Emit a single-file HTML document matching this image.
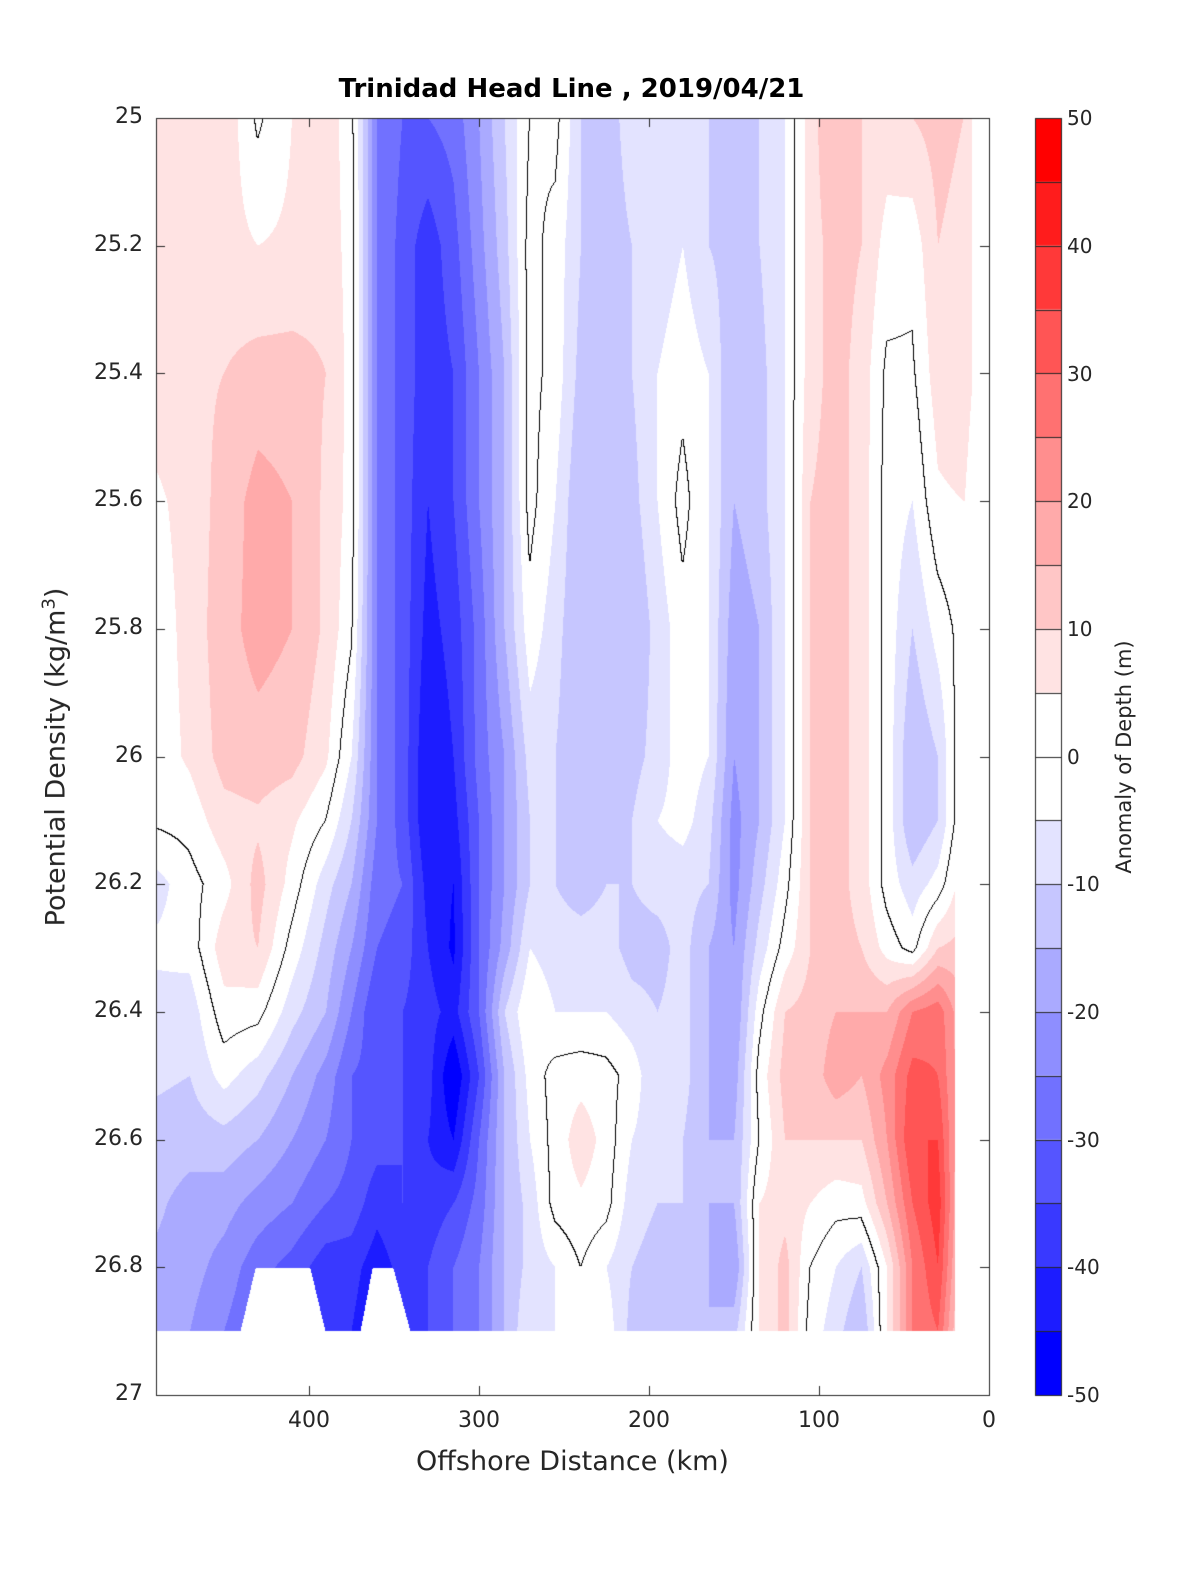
<!DOCTYPE html>
<html><head><meta charset="utf-8"><style>
html,body{margin:0;padding:0;background:#fff;}
#wrap{position:relative;width:1200px;height:1575px;font-family:"DejaVu Sans","Liberation Sans",sans-serif;color:#262626;}
canvas{position:absolute;left:0;top:0;}
.t{position:absolute;font-size:22px;white-space:nowrap;}
.yl{right:1057px;text-align:right;}
.cl{left:1067px;}
</style></head><body><div id="wrap">
<canvas id="c" width="1200" height="1575"></canvas>
<div class="t" style="left:0;width:1143px;top:74px;text-align:center;font-weight:bold;font-size:26px;color:#000;">Trinidad Head Line , 2019/04/21</div>
<div class="t yl" style="top:104px">25</div>
<div class="t yl" style="top:232px">25.2</div>
<div class="t yl" style="top:360px">25.4</div>
<div class="t yl" style="top:487px">25.6</div>
<div class="t yl" style="top:615px">25.8</div>
<div class="t yl" style="top:743px">26</div>
<div class="t yl" style="top:870px">26.2</div>
<div class="t yl" style="top:998px">26.4</div>
<div class="t yl" style="top:1126px">26.6</div>
<div class="t yl" style="top:1253px">26.8</div>
<div class="t yl" style="top:1381px">27</div>
<div class="t" style="left:279px;top:1408px;width:60px;text-align:center">400</div>
<div class="t" style="left:449px;top:1408px;width:60px;text-align:center">300</div>
<div class="t" style="left:619px;top:1408px;width:60px;text-align:center">200</div>
<div class="t" style="left:789px;top:1408px;width:60px;text-align:center">100</div>
<div class="t" style="left:959px;top:1408px;width:60px;text-align:center">0</div>
<div class="t" style="left:156px;width:833px;top:1446px;text-align:center;font-size:27px">Offshore Distance (km)</div>
<div class="t" style="left:55px;top:757px;font-size:27px;transform:translate(-50%,-50%) rotate(-90deg);">Potential Density (kg/m<sup style="font-size:18px">3</sup>)</div>
<div class="t" style="left:1124px;top:757px;font-size:21px;transform:translate(-50%,-50%) rotate(-90deg);">Anomaly of Depth (m)</div>
<div class="t cl" style="top:106px;font-size:20px">50</div>
<div class="t cl" style="top:234px;font-size:20px">40</div>
<div class="t cl" style="top:362px;font-size:20px">30</div>
<div class="t cl" style="top:489px;font-size:20px">20</div>
<div class="t cl" style="top:617px;font-size:20px">10</div>
<div class="t cl" style="top:745px;font-size:20px">0</div>
<div class="t cl" style="top:872px;font-size:20px">-10</div>
<div class="t cl" style="top:1000px;font-size:20px">-20</div>
<div class="t cl" style="top:1128px;font-size:20px">-30</div>
<div class="t cl" style="top:1255px;font-size:20px">-40</div>
<div class="t cl" style="top:1383px;font-size:20px">-50</div>
</div>
<script>
var km=[490,470,450,430,410,390,375,360,345,330,315,300,285,270,255,240,225,210,195,180,165,150,135,120,105,90,75,60,45,30,15];
var rho=[25.0,25.2,25.4,25.6,25.8,26.0,26.1,26.2,26.3,26.4,26.5,26.6,26.7,26.8,26.9];
var C=[
[8,8,8,4,2,2,1,-7,-4,-7,-9,-12,-14,-16,-17],
[8,8,9,7,7,6,2,-2,-3,-8,-10,-13,-17,-18,-20],
[9,7,10,12,13,12,8,3,8,3,-3,-12,-18,-22,-25],
[-1,5,12,17,17,13,9,12,10,2,-8,-15,-22,-28,-30],
[5,6,12,15,15,12,6,3,-2,-8,-15,-20,-25,-32,-35],
[8,8,10,9,9,6,0,-8,-12,-15,-22,-25,-30,-38,-40],
[2,3,3,3,1,-5,-10,-15,-20,-25,-30,-30,-32,-38,-40],
[-25,-25,-25,-25,-25,-25,-25,-28,-30,-35,-32,-33,-38,-43,-45],
[-30,-32,-32,-32,-32,-32,-32,-30,-32,-35,-35,-35,-35,-38,-40],
[-30,-38,-38,-40,-42,-45,-45,-42,-40,-38,-38,-40,-38,-35,-35],
[-28,-32,-35,-35,-38,-40,-42,-45,-46,-42,-50,-45,-35,-30,-30],
[-20,-22,-25,-25,-28,-28,-30,-30,-30,-30,-35,-30,-28,-25,-25],
[-10,-12,-15,-15,-15,-20,-20,-20,-18,-10,-15,-15,-15,-15,-15],
[0,2,2,2,-2,-8,-10,-10,-5,0,-3,-5,-8,-8,-5],
[2,-2,-2,-5,-8,-10,-10,-10,-8,-5,2,2,2,-5,-5],
[-10,-10,-12,-15,-15,-15,-15,-12,-8,-5,3,8,4,0,-5],
[-12,-12,-12,-12,-15,-12,-12,-10,-8,-5,2,3,2,-5,-2],
[-8,-10,-10,-12,-15,-12,-10,-10,-12,-8,-2,-5,-8,-10,-12],
[-8,-8,-5,-5,-8,-8,-5,-8,-12,-10,-10,-8,-10,-12,-12],
[-8,-5,-2,2,-2,-2,-3,-8,-8,-8,-8,-10,-10,-10,-12],
[-10,-10,-5,-5,-5,-5,-8,-10,-15,-15,-15,-15,-15,-15,-15],
[-12,-12,-15,-15,-18,-20,-22,-22,-20,-20,-18,-15,-15,-20,-12],
[-10,-10,-12,-12,-15,-15,-15,-12,-8,-2,2,0,5,5,5],
[-5,-5,-5,-5,-5,-5,-5,-2,2,10,12,10,8,12,12],
[8,8,8,10,10,10,10,10,10,12,12,10,5,0,-2],
[15,12,12,12,12,12,12,12,12,15,18,10,2,-5,-8],
[10,10,8,8,8,8,8,8,10,15,15,10,3,-10,-15],
[8,3,-1,-2,-2,-2,-2,-2,3,15,22,20,15,5,5],
[10,2,-1,-5,-10,-15,-15,-8,-2,25,32,35,30,25,25],
[12,10,8,4,-3,-10,-10,-3,10,28,30,35,38,35,30],
[10,8,10,5,2,5,5,8,12,15,15,12,10,8,5]];
function X(d){return 989-1.7*d;}
function Y(r){return 118+(r-25)*638.5;}
var xs=km.map(X), ys=rho.map(Y);
function find(a,v){for(var i=0;i<a.length-2;i++){if(v<a[i+1])return i;}return a.length-2;}
function val(x,y){var i=find(xs,x),j=find(ys,y);var tx=(x-xs[i])/(xs[i+1]-xs[i]),ty=(y-ys[j])/(ys[j+1]-ys[j]);
tx=Math.max(0,Math.min(1,tx));ty=Math.max(0,Math.min(1,ty));
return (C[i][j]*(1-tx)+C[i+1][j]*tx)*(1-ty)+(C[i][j+1]*(1-tx)+C[i+1][j+1]*tx)*ty;}
function col(v){var b=Math.floor(v/5);if(b>=9)b=9;if(b<=-10)b=-10;
if(b===0||b===-1)return[255,255,255];
var k,c;if(b>0){k=b;c=Math.round(255*(1-k/9));return[255,c,c];}
k=-b-1;c=Math.round(255*(1-k/9));return[c,c,255];}
function rightB(y){if(y<380)return 972;if(y<640)return 972-17*(y-380)/260;return 955;}
function inHole(x,y){if(y<1268)return false;var f=(y-1268)/63;
if(x>255-15*f&&x<310+15*f)return true;if(x>372-12*f&&x<393+17*f)return true;return false;}
var cv=document.getElementById('c'),g=cv.getContext('2d');
var W=833,H=1213,x0=156,y0=118;
var img=g.createImageData(W,H),d=img.data;var V=new Float32Array(W*H);
for(var yy=0;yy<H;yy++)for(var xx=0;xx<W;xx++){V[yy*W+xx]=val(x0+xx+0.5,y0+yy+0.5);}
for(var yy=0;yy<H;yy++)for(var xx=0;xx<W;xx++){var px=x0+xx,py=y0+yy,p=(yy*W+xx)*4;
var c=[255,255,255];
if(px<rightB(py)&&!inHole(px,py)){var v=V[yy*W+xx];c=col(v);
var s=v>=0;
if(xx<W-1&&((V[yy*W+xx+1]>=0)!==s))c=[0,0,0];
if(yy<H-1&&((V[(yy+1)*W+xx]>=0)!==s))c=[0,0,0];}
d[p]=c[0];d[p+1]=c[1];d[p+2]=c[2];d[p+3]=255;}
g.putImageData(img,x0,y0);
g.strokeStyle='#262626';g.lineWidth=1;g.strokeRect(156.5,118.5,833,1277);
for(var i=0;i<=10;i++){var y=Math.round(118+i*127.7)+0.5;g.beginPath();g.moveTo(156,y);g.lineTo(165,y);g.moveTo(989,y);g.lineTo(980,y);g.stroke();}
for(var dd=0;dd<=400;dd+=100){var x=Math.round(X(dd))+0.5;g.beginPath();g.moveTo(x,1395);g.lineTo(x,1386);g.moveTo(x,118);g.lineTo(x,127);g.stroke();}
for(var b=0;b<20;b++){var v=-50+b*5+2.5;var c=col(v);var yt=1395-(b+1)*63.85;
g.fillStyle='rgb('+c[0]+','+c[1]+','+c[2]+')';g.fillRect(1035,yt,26,63.85);}
for(var b=1;b<20;b++){var y=Math.round(1395-b*63.85)+0.5;g.beginPath();g.moveTo(1035,y);g.lineTo(1061,y);g.stroke();}
g.strokeRect(1035.5,118.5,26,1277);
</script>
</body></html>
